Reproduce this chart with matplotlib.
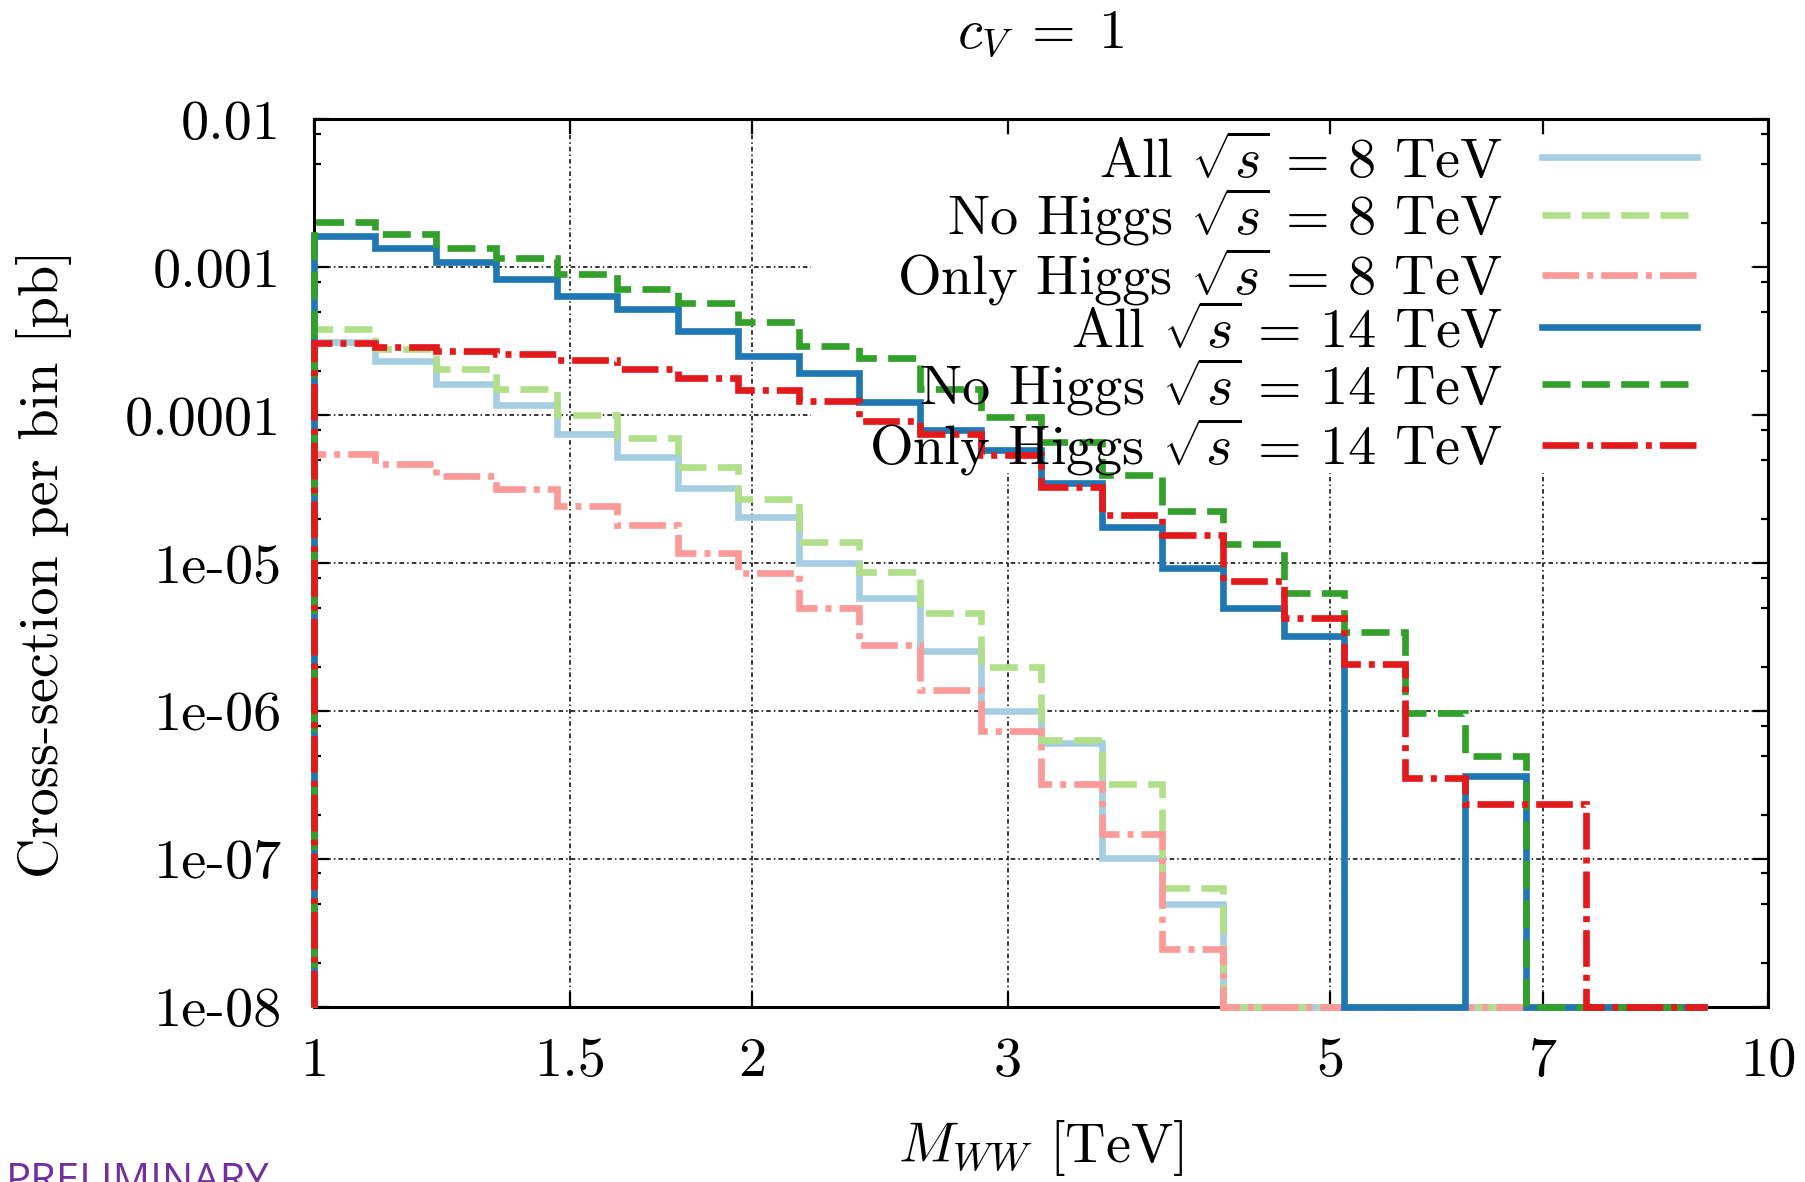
import numpy as np
import matplotlib
matplotlib.use('Agg')
import matplotlib.pyplot as plt
from matplotlib.lines import Line2D
from matplotlib.patches import Rectangle
from matplotlib.ticker import FixedLocator, FixedFormatter, LogLocator, NullLocator, NullFormatter

plt.rcParams['font.family'] = 'serif'
plt.rcParams['font.serif'] = ['cmr10']
plt.rcParams['mathtext.fontset'] = 'cm'
plt.rcParams['axes.unicode_minus'] = False
plt.rcParams['axes.formatter.use_mathtext'] = True

# bin edges in M_WW [TeV] (24 bins per decade)
bin_edges = [1.0, 1.101, 1.212, 1.334, 1.468, 1.616, 1.778, 1.957, 2.154, 2.371,
             2.610, 2.873, 3.162, 3.481, 3.831, 4.217, 4.642, 5.109, 5.623, 6.190,
             6.813, 7.499, 8.254, 9.085]

# cross-section per bin [pb]
all_8 = [3.15e-4, 2.31e-4, 1.63e-4, 1.17e-4, 7.5e-5, 5.2e-5, 3.2e-5, 2.05e-5, 1.0e-5,
         5.8e-6, 2.54e-6, 1.01e-6, 6.05e-7, 1.02e-7, 5.0e-8, 0, 0, 0, 0, 0, 0, 0, 0]
nohiggs_8 = [3.8e-4, 2.81e-4, 2.06e-4, 1.50e-4, 1.01e-4, 7.0e-5, 4.5e-5, 2.72e-5, 1.4e-5,
             8.7e-6, 4.6e-6, 1.99e-6, 6.4e-7, 3.2e-7, 6.4e-8, 0, 0, 0, 0, 0, 0, 0, 0]
onlyhiggs_8 = [5.5e-5, 4.7e-5, 3.9e-5, 3.17e-5, 2.45e-5, 1.8e-5, 1.17e-5, 8.6e-6, 5.0e-6,
               2.79e-6, 1.40e-6, 7.3e-7, 3.2e-7, 1.48e-7, 2.45e-8, 0, 0, 0, 0, 0, 0, 0, 0]
all_14 = [1.63e-3, 1.36e-3, 1.08e-3, 8.3e-4, 6.4e-4, 5.2e-4, 3.74e-4, 2.53e-4, 1.93e-4,
          1.23e-4, 7.9e-5, 5.8e-5, 3.46e-5, 1.75e-5, 9.25e-6, 4.97e-6, 3.24e-6, 0, 0,
          3.64e-7, 0, 0, 0]
nohiggs_14 = [2.01e-3, 1.69e-3, 1.36e-3, 1.15e-3, 9.0e-4, 7.1e-4, 5.75e-4, 4.25e-4, 2.96e-4,
              2.45e-4, 1.51e-4, 9.75e-5, 6.6e-5, 3.94e-5, 2.27e-5, 1.35e-5, 6.3e-6, 3.43e-6,
              9.75e-7, 4.95e-7, 0, 0, 0]
onlyhiggs_14 = [3.09e-4, 2.89e-4, 2.72e-4, 2.58e-4, 2.35e-4, 2.04e-4, 1.79e-4, 1.49e-4, 1.24e-4,
                9.1e-5, 7.5e-5, 5.37e-5, 3.29e-5, 2.12e-5, 1.54e-5, 7.6e-6, 4.26e-6, 2.08e-6,
                3.54e-7, 2.34e-7, 2.34e-7, 0, 0]

labels = [r'All $\sqrt{s}\,=\,8$ TeV', r'No Higgs $\sqrt{s}\,=\,8$ TeV',
          r'Only Higgs $\sqrt{s}\,=\,8$ TeV', r'All $\sqrt{s}\,=\,14$ TeV',
          r'No Higgs $\sqrt{s}\,=\,14$ TeV', r'Only Higgs $\sqrt{s}\,=\,14$ TeV']
colors = ['#a6cee3', '#b2df8a', '#fb9a99', '#1f78b4', '#33a02c', '#e31a1c']

x_ticks = [1, 1.5, 2, 3, 5, 7, 10]
x_ticklabels = ['1', '1.5', '2', '3', '5', '7', '10']
y_ticks = [1e-8, 1e-7, 1e-6, 1e-5, 1e-4, 1e-3, 1e-2]
y_ticklabels = ['1e-08', '1e-07', '1e-06', '1e-05', '0.0001', '0.001', '0.01']

ymin, ymax = 1e-8, 1e-2
fs = 40.5
lw = 4.8
dashed = (0, (4.2, 1.7))
dashdot = (0, (5.5, 1.2, 0.9, 1.2))
styles = ['-', dashed, dashdot, '-', dashed, dashdot]

fig = plt.figure(figsize=(18.06, 11.82), dpi=100)
ax = fig.add_axes([0.174, 0.148, 0.805, 0.751])
ax.set_xscale('log')
ax.set_yscale('log')
ax.set_xlim(1, 10)
ax.set_ylim(ymin, ymax)

series = [all_8, nohiggs_8, onlyhiggs_8, all_14, nohiggs_14, onlyhiggs_14]
handles = []
for vals, col, ls, lab in zip(series, colors, styles, labels):
    v = np.clip(np.array(vals, dtype=float), ymin, None)
    ax.stairs(v, bin_edges, baseline=ymin, color=col, linestyle=ls, linewidth=lw,
              clip_on=False, zorder=3)
    handles.append(Line2D([], [], color=col, linestyle=ls, linewidth=lw))

# opaque key area (hides the grid behind the legend)
ax.add_patch(Rectangle((0.342, 0.602), 0.645, 0.38, transform=ax.transAxes,
                       facecolor='white', edgecolor='none', zorder=1.8))

ax.xaxis.set_major_locator(FixedLocator(x_ticks))
ax.xaxis.set_major_formatter(FixedFormatter(x_ticklabels))
ax.xaxis.set_minor_locator(NullLocator())
ax.yaxis.set_major_locator(FixedLocator(y_ticks))
ax.yaxis.set_major_formatter(FixedFormatter(y_ticklabels))
ax.yaxis.set_minor_locator(LogLocator(base=10, subs=[2, 5, 8]))
ax.yaxis.set_minor_formatter(NullFormatter())

ax.tick_params(which='both', direction='in', top=True, right=True, labelsize=fs, width=1.6)
ax.tick_params(which='major', length=11)
ax.tick_params(which='minor', length=5)
ax.tick_params(axis='y', pad=24)
ax.tick_params(axis='x', pad=22)
for sp in ax.spines.values():
    sp.set_linewidth(2.2)

ax.grid(True, which='major', color='black', linestyle=(0, (3, 2, 1, 2)), linewidth=1.1)

ax.set_title(r'$c_V\;=\;1$', fontsize=fs, pad=52)
ax.set_xlabel(r'$M_{WW}$ [TeV]', fontsize=fs, labelpad=22)
ax.set_ylabel('Cross-section per bin [pb]', fontsize=fs, labelpad=38)

leg = ax.legend(handles, labels, loc='upper right', bbox_to_anchor=(0.951, 0.981),
                markerfirst=False, frameon=False, fontsize=fs, handlelength=2.75,
                handletextpad=0.7, labelspacing=-0.04, borderaxespad=0, borderpad=0)
leg.set_zorder(5)

fig.text(0.003, -0.009, 'PRELIMINARY', color='#7030a0', fontsize=30,
         family='Open Sans', va='baseline', ha='left')

fig.savefig('out.png', dpi=100)
